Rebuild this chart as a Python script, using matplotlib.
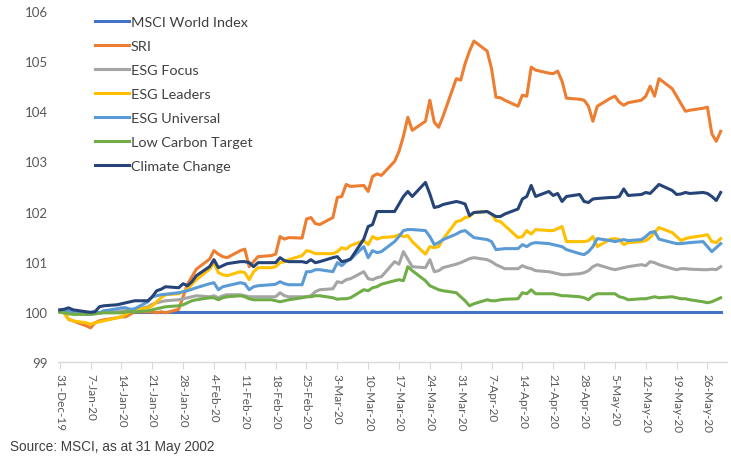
import matplotlib
matplotlib.use("Agg")
import matplotlib.pyplot as plt
import pandas as pd

# weekdays from 31-Dec-19 to 29-May-20 (4 + 21 weeks x 5 = 109 points)
dates = pd.bdate_range("2019-12-31", "2020-05-29")

msci_world = [100.0] * len(dates)

sri = [100.0, 99.98, 99.85, 99.82,
       99.72, 99.68, 99.78, 99.82, 99.84,
       99.88, 99.9, 99.9, 99.95, 100.0,
       100.0, 100.0, 99.98, 100.0, 99.98,
       100.05, 100.3, 100.55, 100.7, 100.85,
       101.05, 101.22, 101.15, 101.1, 101.08,
       101.22, 101.25, 100.9, 101.0, 101.1,
       101.12, 101.15, 101.5, 101.45, 101.48,
       101.47, 101.85, 101.88, 101.76, 101.74,
       101.88, 102.28, 102.3, 102.54, 102.5,
       102.52, 102.4, 102.7, 102.75, 102.72,
       103.0, 103.2, 103.5, 103.88, 103.62,
       103.8, 104.22, 103.78, 103.68, 103.9,
       104.65, 104.62, 104.95, 105.2, 105.4,
       105.2, 104.85, 104.28, 104.27, 104.22,
       104.1, 104.32, 104.3, 104.88, 104.82,
       104.76, 104.75, 104.8, 104.6, 104.26,
       104.24, 104.22, 104.1, 103.8, 104.1,
       104.26, 104.3, 104.18, 104.12, 104.17,
       104.22, 104.3, 104.5, 104.3, 104.65,
       104.45, 104.3, 104.15, 104.0, 104.02,
       104.06, 104.08, 103.55, 103.4, 103.6]

esg_focus = [100.0, 100.0, 99.98, 99.96,
             99.95, 99.95, 99.96, 99.98, 100.0,
             100.0, 100.02, 100.02, 100.04, 100.05,
             100.1, 100.15, 100.18, 100.2, 100.22,
             100.24, 100.26, 100.28, 100.3, 100.32,
             100.3, 100.32, 100.28, 100.32, 100.34,
             100.34, 100.32, 100.3, 100.3, 100.3,
             100.3, 100.3, 100.38, 100.32, 100.3,
             100.3, 100.3, 100.32, 100.4, 100.44,
             100.46, 100.6, 100.58, 100.64, 100.66,
             100.8, 100.66, 100.64, 100.68, 100.7,
             101.0, 100.95, 101.2, 101.05, 100.9,
             100.88, 101.04, 100.8, 100.82, 100.88,
             100.95, 100.98, 101.02, 101.06, 101.08,
             101.04, 101.0, 100.94, 100.9, 100.86,
             100.86, 100.92, 100.88, 100.86, 100.82,
             100.8, 100.78, 100.76, 100.74, 100.74,
             100.76, 100.78, 100.82, 100.9, 100.94,
             100.86, 100.84, 100.86, 100.88, 100.9,
             100.94, 100.92, 101.0, 100.98, 100.94,
             100.86, 100.84, 100.86, 100.86, 100.85,
             100.84, 100.84, 100.85, 100.84, 100.9]

esg_leaders = [100.0, 99.98, 99.85, 99.82,
               99.78, 99.75, 99.78, 99.8, 99.82,
               99.88, 99.9, 99.95, 100.0, 100.04,
               100.08, 100.12, 100.2, 100.28, 100.34,
               100.36, 100.4, 100.45, 100.55, 100.64,
               100.85, 100.98, 100.78, 100.74, 100.72,
               100.8, 100.78, 100.64, 100.8, 100.88,
               100.88, 100.9, 100.98, 101.0, 101.04,
               101.12, 101.22, 101.2, 101.16, 101.16,
               101.16, 101.2, 101.28, 101.25, 101.32,
               101.42, 101.34, 101.5, 101.45, 101.48,
               101.5, 101.54, 101.5, 101.52, 101.4,
               101.15, 101.3, 101.28, 101.3, 101.45,
               101.8, 101.82, 101.88, 101.9, 101.98,
               102.0, 101.95, 101.82, 101.8, 101.72,
               101.48, 101.5, 101.62, 101.55, 101.64,
               101.62, 101.62, 101.66, 101.7, 101.4,
               101.4, 101.4, 101.42, 101.5, 101.3,
               101.45, 101.46, 101.44, 101.34, 101.38,
               101.4, 101.42, 101.48, 101.58, 101.68,
               101.58, 101.5, 101.42, 101.46, 101.48,
               101.52, 101.54, 101.4, 101.38, 101.46]

esg_universal = [100.0, 100.0, 100.02, 100.0,
                 99.98, 99.98, 100.0, 99.98, 100.02,
                 100.06, 100.08, 100.08, 100.05, 100.06,
                 100.2, 100.3, 100.32, 100.34, 100.35,
                 100.38, 100.4, 100.42, 100.45, 100.48,
                 100.56, 100.58, 100.44, 100.5, 100.52,
                 100.58, 100.56, 100.44, 100.5, 100.52,
                 100.54, 100.55, 100.6, 100.56, 100.54,
                 100.54, 100.8, 100.8, 100.84, 100.84,
                 100.8, 100.98, 100.92, 101.0, 101.05,
                 101.3, 101.08, 101.22, 101.18, 101.2,
                 101.4, 101.5, 101.62, 101.64, 101.64,
                 101.62, 101.5, 101.34, 101.38, 101.44,
                 101.55, 101.6, 101.62, 101.55, 101.48,
                 101.44, 101.4, 101.24, 101.25, 101.26,
                 101.26, 101.34, 101.3, 101.36, 101.38,
                 101.36, 101.34, 101.32, 101.3, 101.24,
                 101.16, 101.14, 101.2, 101.3, 101.46,
                 101.42, 101.4, 101.42, 101.44, 101.42,
                 101.44, 101.5, 101.58, 101.6, 101.45,
                 101.38, 101.36, 101.36, 101.37, 101.38,
                 101.4, 101.3, 101.2, 101.28, 101.36]

low_carbon = [100.0, 99.98, 99.96, 99.95,
              99.95, 99.95, 99.96, 99.97, 99.98,
              99.98, 99.98, 100.0, 100.0, 100.0,
              100.02, 100.04, 100.06, 100.08, 100.1,
              100.12, 100.14, 100.18, 100.22, 100.24,
              100.28, 100.28, 100.24, 100.28, 100.3,
              100.32, 100.3, 100.26, 100.24, 100.24,
              100.24, 100.22, 100.2, 100.22, 100.24,
              100.28, 100.3, 100.3, 100.32, 100.32,
              100.28, 100.25, 100.26, 100.26, 100.28,
              100.44, 100.42, 100.48, 100.5, 100.55,
              100.62, 100.64, 100.62, 100.9, 100.82,
              100.62, 100.52, 100.48, 100.44, 100.42,
              100.38, 100.3, 100.22, 100.12, 100.16,
              100.24, 100.22, 100.22, 100.24, 100.25,
              100.26, 100.38, 100.36, 100.44, 100.36,
              100.36, 100.36, 100.34, 100.32, 100.32,
              100.3, 100.28, 100.24, 100.32, 100.36,
              100.36, 100.36, 100.3, 100.28, 100.24,
              100.26, 100.26, 100.28, 100.3, 100.28,
              100.3, 100.28, 100.26, 100.26, 100.24,
              100.2, 100.18, 100.2, 100.24, 100.28]

climate_change = [100.04, 100.05, 100.08, 100.04,
                  100.0, 99.99, 100.0, 100.1, 100.12,
                  100.14, 100.16, 100.18, 100.2, 100.22,
                  100.22, 100.3, 100.42, 100.45, 100.5,
                  100.48, 100.56, 100.52, 100.6, 100.72,
                  100.9, 101.04, 100.88, 100.92, 100.96,
                  101.0, 101.0, 100.98, 100.9, 100.98,
                  100.98, 100.98, 101.08, 101.02, 101.0,
                  101.0, 100.98, 101.04, 100.98, 101.0,
                  101.08, 101.1, 101.0, 101.02, 101.05,
                  101.45, 101.7, 101.74, 102.0, 102.0,
                  102.0, 102.15, 102.3, 102.4, 102.3,
                  102.58, 102.35, 102.08, 102.1, 102.14,
                  102.2, 102.18, 102.15, 101.92, 101.98,
                  102.0, 101.95, 101.9, 101.9, 101.95,
                  102.05, 102.25, 102.3, 102.52, 102.3,
                  102.4, 102.32, 102.36, 102.2, 102.3,
                  102.34, 102.2, 102.18, 102.25, 102.26,
                  102.28, 102.28, 102.3, 102.45, 102.32,
                  102.34, 102.38, 102.36, 102.45, 102.54,
                  102.42, 102.34, 102.35, 102.38, 102.36,
                  102.38, 102.36, 102.3, 102.22, 102.38]

series = [
    ("MSCI World Index", msci_world, "#4472C4"),
    ("SRI", sri, "#ED7D31"),
    ("ESG Focus", esg_focus, "#A5A5A5"),
    ("ESG Leaders", esg_leaders, "#FFC000"),
    ("ESG Universal", esg_universal, "#5B9BD5"),
    ("Low Carbon Target", low_carbon, "#70AD47"),
    ("Climate Change", climate_change, "#264478"),
]

plt.rcParams["font.family"] = ["Lato", "DejaVu Sans"]

fig = plt.figure(figsize=(7.31, 4.6), dpi=100)
ax = fig.add_axes([0.0793, 0.211, 0.915, 0.763])

for name, vals, col in series:
    ax.plot(dates, vals, color=col, lw=2.2, label=name, solid_joinstyle="round")

start = pd.Timestamp("2019-12-31")
ax.set_xlim(start - pd.Timedelta(days=0.4), start + pd.Timedelta(days=151.4))
ax.set_ylim(99, 106)
ax.set_yticks(range(99, 107))

ticks = pd.date_range("2019-12-31", "2020-05-26", freq="7D")
ax.set_xticks(ticks)
ax.set_xticklabels([f"{d.day}-{d.strftime('%b-%y')}" for d in ticks],
                   rotation=-90, fontsize=8.5, color="#595959")
ax.tick_params(axis="x", length=5, color="#D9D9D9", pad=3)
ax.tick_params(axis="y", length=0, labelsize=9.5, labelcolor="#595959", pad=7)

for s in ["top", "right", "left"]:
    ax.spines[s].set_visible(False)
ax.spines["bottom"].set_color("#D9D9D9")
ax.spines["bottom"].set_linewidth(1.0)

leg = ax.legend(loc="upper left", bbox_to_anchor=(0.056, 0.986), frameon=False,
                fontsize=10.4, handlelength=2.3, handletextpad=0.15,
                labelspacing=0.82, borderpad=0, borderaxespad=0)
for t in leg.get_texts():
    t.set_color("#404040")

fig.text(0.014, 0.028, "Source: MSCI, as at 31 May 2002", fontsize=9.8,
         family=["Liberation Sans", "DejaVu Sans"], color="#404040", va="center")

fig.savefig("out.png", dpi=100)
